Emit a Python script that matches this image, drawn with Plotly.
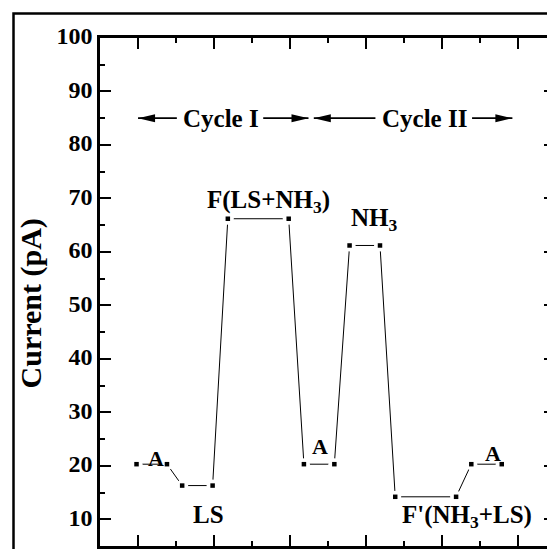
import plotly.graph_objects as go

# ---- data ----
time_s = [0.98, 1.38, 1.58, 1.98, 2.18, 2.98, 3.18, 3.58, 3.78, 4.18, 4.38, 5.18, 5.38, 5.78]
current_pA = [20.3, 20.3, 16.3, 16.3, 66.2, 66.2, 20.3, 20.3, 61.2, 61.2, 14.2, 14.2, 20.3, 20.3]

label_text = ["A", "LS", "F(LS+NH<sub>3</sub>)", "A", "NH<sub>3</sub>", "F'(NH<sub>3</sub>+LS)", "A"]
label_x = [1.24, 1.93, 2.712, 3.387, 4.105, 5.327, 5.665]
label_y = [21.4, 10.8, 69.5, 23.6, 66.0, 10.5, 22.3]
label_size = [22, 25, 25, 22, 25, 25, 22]

cycle_text = ["Cycle I", "Cycle II"]
cycle_x = [2.084, 4.767]
cycle_y = 85
arrow_tail_x = [1.51, 2.645, 4.12, 5.39]
arrow_tip_x = [1.0, 3.24, 3.31, 5.92]

y_axis_title = "Current (pA)"

FONT = "Liberation Serif"

fig = go.Figure()
fig.add_trace(go.Scatter(x=time_s, y=current_pA, mode="lines",
                         line=dict(color="black", width=1), hoverinfo="skip"))
# white halo to create the gap between line and symbol
fig.add_trace(go.Scatter(x=time_s, y=current_pA, mode="markers",
                         marker=dict(symbol="circle", size=12, color="white", line=dict(width=0)),
                         hoverinfo="skip"))
fig.add_trace(go.Scatter(x=time_s, y=current_pA, mode="markers",
                         marker=dict(symbol="square", size=4.5, color="black", line=dict(width=0)),
                         hoverinfo="skip"))
# invisible trace to hold the right-hand tick axis
fig.add_trace(go.Scatter(x=time_s, y=current_pA, yaxis="y2", mode="markers",
                         marker=dict(opacity=0), hoverinfo="skip"))

tick_common = dict(ticks="inside", ticklen=11, tickwidth=2, tickcolor="black",
                   showgrid=False, zeroline=False)

# the page body has an 8px margin, so the figure is 8px smaller than the window
fig.update_layout(
    width=547, height=541,
    margin=dict(l=92, r=0, t=30, b=3, autoexpand=False),
    paper_bgcolor="white", plot_bgcolor="white", showlegend=False,
    xaxis=dict(range=[0.5, 6.48], tick0=0, dtick=1, showline=True, linewidth=2.5,
               linecolor="black", mirror="ticks", showticklabels=False,
               minor=dict(dtick=0.5, ticks="inside", ticklen=5.5, tickwidth=2, tickcolor="black"),
               **tick_common),
    yaxis=dict(range=[5, 100], tick0=0, dtick=10, showline=True, linewidth=2.5,
               linecolor="black", ticklabelshift=-2,
               tickfont=dict(family=FONT, size=24, color="black", weight="bold"),
               minor=dict(dtick=5, ticks="inside", ticklen=5.5, tickwidth=2, tickcolor="black"),
               **tick_common),
    yaxis2=dict(range=[5, 100], tick0=0, dtick=10, overlaying="y", side="right", anchor="x",
                showline=False, showticklabels=False,
                minor=dict(dtick=5, ticks="inside", ticklen=5.5, tickwidth=2, tickcolor="black"),
                **tick_common),
)

annotations = []
for t, x, y, s in zip(label_text, label_x, label_y, label_size):
    annotations.append(dict(text=t, x=x, y=y, xref="x", yref="y", showarrow=False,
                            xanchor="center", yanchor="middle",
                            font=dict(family=FONT, size=s, color="black", weight="bold")))
for t, x in zip(cycle_text, cycle_x):
    annotations.append(dict(text=t, x=x, y=cycle_y, xref="x", yref="y", showarrow=False,
                            xanchor="center", yanchor="middle",
                            font=dict(family=FONT, size=25, color="black", weight="bold")))
annotations.append(dict(text=y_axis_title, textangle=-90, x=-0.1495, y=0.4774,
                        xref="paper", yref="paper", showarrow=False,
                        xanchor="center", yanchor="middle",
                        font=dict(family=FONT, size=30, color="black", weight="bold")))
fig.update_layout(annotations=annotations)

shapes = []
for tail, tip in zip(arrow_tail_x, arrow_tip_x):
    shapes.append(dict(type="line", xref="x", yref="y", x0=tail, x1=tip, y0=cycle_y, y1=cycle_y,
                       line=dict(color="black", width=1.8)))
    d = 1 if tip < tail else -1
    shapes.append(dict(type="path", xref="x", yref="y", xsizemode="pixel", ysizemode="pixel",
                       xanchor=tip, yanchor=cycle_y,
                       path=f"M0,0L{17*d},4L{17*d},-4Z",
                       fillcolor="black", line=dict(width=0)))
# outer frame
shapes.append(dict(type="rect", xref="paper", yref="paper", x0=-0.1901, x1=1.03, y0=-0.03, y1=1.0482,
                   line=dict(color="black", width=2.5), fillcolor="rgba(0,0,0,0)"))
fig.update_layout(shapes=shapes)

fig.write_html("out.html")
